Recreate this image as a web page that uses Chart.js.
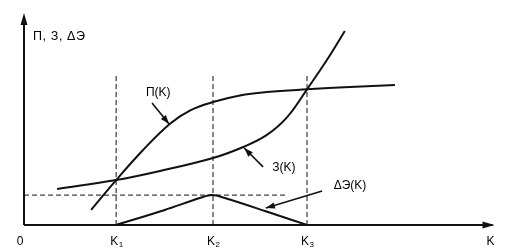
<!DOCTYPE html>
<html>
<head>
<meta charset="utf-8">
<script src="https://cdn.jsdelivr.net/npm/chart.js@4"></script>
<style>
  html, body { margin: 0; padding: 0; background: #fff; }
  #wrap { width: 507px; height: 249px; }
</style>
</head>
<body>
<div id="wrap"><canvas id="chart"></canvas></div>
<script>
// values (x: K axis 0..10, y: value axis 0..10)
const kValues = [1.95, 4.0, 5.99]
const kNames = ['K', 'K', 'K']
const kSubs = ['1', '2', '3']

const profitX = [1.42, 1.95, 2.52, 3.09, 3.51, 4.0, 4.57, 5.14, 5.99, 6.9, 7.85]
const profitY = [0.71, 2.12, 3.54, 4.78, 5.4, 5.8, 6.11, 6.27, 6.4, 6.51, 6.6]

const costX = [0.7, 1.95, 2.88, 4.0, 4.64, 5.14, 5.57, 5.99, 6.41, 6.79]
const costY = [1.7, 2.12, 2.55, 3.16, 3.68, 4.25, 5.09, 6.4, 7.78, 9.15]

const effectX = [1.95, 2.98, 3.72, 3.98, 4.25, 5.1, 5.99]
const effectY = [0, 0.71, 1.27, 1.41, 1.27, 0.66, 0]

const guideTop = 7.1
const peakLevel = 1.41
const peakLineEnd = 5.59

const axisTitle = 'П, З, ΔЭ'
const xAxisName = 'K'
const originLabel = '0'
const curveLabels = [
  { text: 'П(K)', at: [2.84, 6.23], from: [2.71, 5.75], to: [3.07, 4.76] },
  { text: 'З(K)', at: [5.5, 2.69], from: [5.06, 2.74], to: [4.66, 3.63] },
  { text: 'ΔЭ(K)', at: [6.9, 1.84], from: [6.31, 1.6], to: [5.12, 0.8] }
]

const ink = '#111'
const font = '"Liberation Sans", Arial, sans-serif'
const toPoints = (xs, ys) => xs.map((x, i) => ({ x: x, y: ys[i] }))

const curve = (data, tension) => ({
  data: data, showLine: true, borderColor: ink, borderWidth: 2,
  pointRadius: 0, tension: tension, fill: false
})
const dashed = (data) => ({
  data: data, showLine: true, borderColor: ink, borderWidth: 1,
  borderDash: [5, 3], pointRadius: 0, fill: false
})

let datasets = [
  curve(toPoints(profitX, profitY), 0.4),
  curve(toPoints(costX, costY), 0.4),
  curve(toPoints(effectX, effectY), 0.3),
  dashed([{ x: 0, y: peakLevel }, { x: peakLineEnd, y: peakLevel }])
]
kValues.forEach(k => datasets.push(dashed([{ x: k, y: 0 }, { x: k, y: guideTop }])))

function arrowHead(ctx, x1, y1, x2, y2, len, half) {
  const a = Math.atan2(y2 - y1, x2 - x1)
  ctx.beginPath()
  ctx.moveTo(x2, y2)
  ctx.lineTo(x2 - len * Math.cos(a) + half * Math.sin(a), y2 - len * Math.sin(a) - half * Math.cos(a))
  ctx.lineTo(x2 - len * Math.cos(a) - half * Math.sin(a), y2 - len * Math.sin(a) + half * Math.cos(a))
  ctx.closePath()
  ctx.fill()
}

const decorPlugin = {
  id: 'decor',
  afterDraw(chart) {
    const ctx = chart.ctx
    const xs = chart.scales.x
    const ys = chart.scales.y
    const px = v => xs.getPixelForValue(v)
    const py = v => ys.getPixelForValue(v)
    ctx.save()
    ctx.strokeStyle = ink
    ctx.fillStyle = ink
    ctx.lineWidth = 2

    // axes with arrows
    const x0 = px(0), y0 = py(0)
    ctx.beginPath()
    ctx.moveTo(x0, y0); ctx.lineTo(x0, py(10) + 4)
    ctx.moveTo(x0, y0); ctx.lineTo(px(10) - 4, y0)
    ctx.stroke()
    arrowHead(ctx, x0, y0, x0, py(10), 12, 3.5)
    arrowHead(ctx, x0, y0, px(10) - 2, y0, 12, 3.5)

    // label arrows
    ctx.lineWidth = 1.6
    curveLabels.forEach(l => {
      const fx = px(l.from[0]), fy = py(l.from[1])
      const tx = px(l.to[0]), ty = py(l.to[1])
      ctx.beginPath()
      ctx.moveTo(fx, fy); ctx.lineTo(tx, ty)
      ctx.stroke()
      arrowHead(ctx, fx, fy, tx, ty, 9, 3.2)
    })

    ctx.fillStyle = '#000'
    ctx.textBaseline = 'middle'
    ctx.font = '12px ' + font
    curveLabels.forEach(l => {
      ctx.textAlign = 'center'
      ctx.fillText(l.text, px(l.at[0]), py(l.at[1]))
    })
    ctx.textAlign = 'left'
    ctx.font = '12.5px ' + font
    ctx.letterSpacing = '0.6px'
    ctx.fillText(axisTitle, x0 + 9, 37)
    ctx.letterSpacing = '0px'

    // tick labels
    const ty = y0 + 17
    ctx.textAlign = 'center'
    ctx.font = '12px ' + font
    ctx.fillText(originLabel, x0 - 4, ty)
    ctx.fillText(xAxisName, px(10) - 6, ty)
    kValues.forEach((k, i) => {
      ctx.font = '12px ' + font
      ctx.textAlign = 'center'
      ctx.fillText(kNames[i], px(k) - 2, ty)
      ctx.font = '8px ' + font
      ctx.textAlign = 'left'
      ctx.fillText(kSubs[i], px(k) + 2.5, ty + 3)
    })
    ctx.restore()
  }
}

new Chart(document.getElementById('chart'), {
  type: 'scatter',
  data: { datasets: datasets },
  options: {
    responsive: true,
    maintainAspectRatio: false,
    animation: false,
    layout: { padding: { left: 24, right: 10.5, top: 13, bottom: 24 } },
    plugins: { legend: { display: false }, tooltip: { enabled: false } },
    scales: {
      x: { type: 'linear', min: 0, max: 10, display: false },
      y: { type: 'linear', min: 0, max: 10, display: false }
    }
  },
  plugins: [decorPlugin]
})
</script>
</body>
</html>
